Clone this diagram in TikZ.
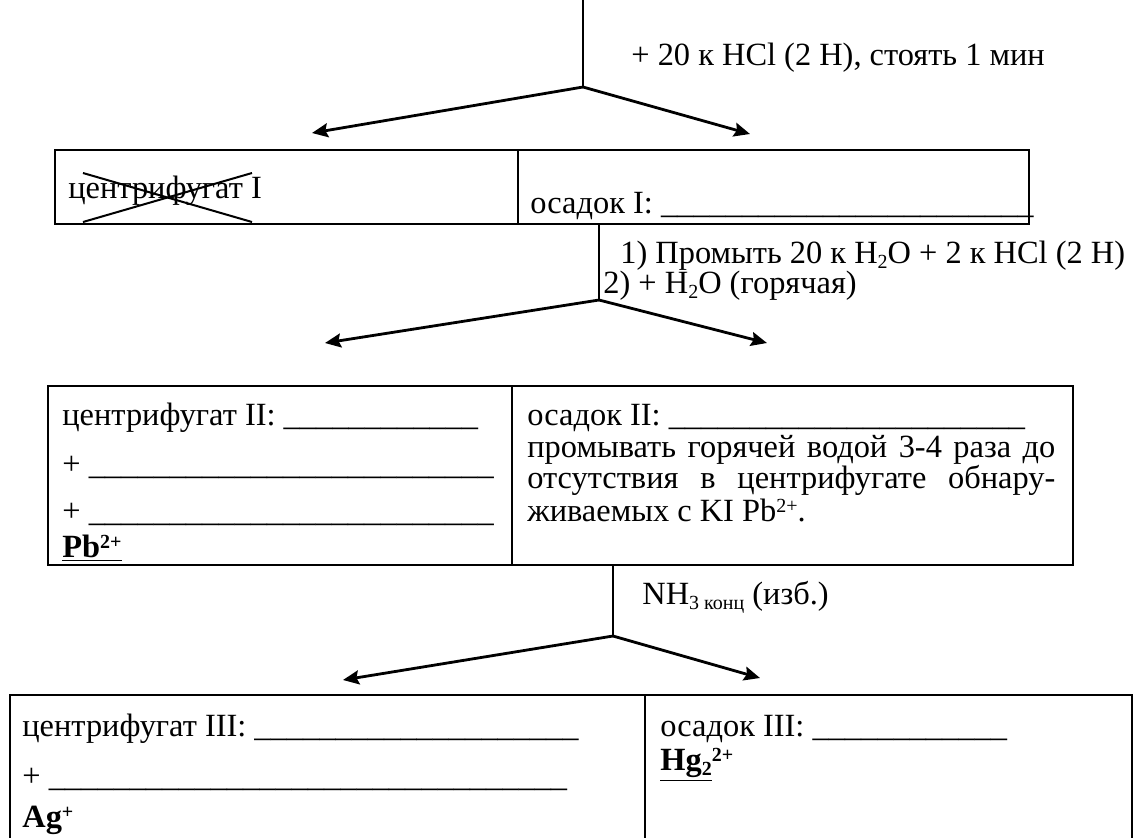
\documentclass[tikz,border=0pt]{standalone}
\usepackage{fontspec}
\setmainfont{Liberation Serif}
\usepackage{tikz}
\usetikzlibrary{arrows.meta}
\newcommand\blanks[1]{\foreach \k in {1,...,#1}{\_}}
\newcommand\ionsup[1]{\raisebox{0.6ex}{\fontsize{10}{10}\selectfont #1}}
\newcommand\ionsub[1]{\raisebox{-0.4ex}{\fontsize{10}{10}\selectfont #1}}
\tikzset{
    txt/.style = {anchor=base west, inner sep=0pt, font=\fontsize{16.2}{16.7}\selectfont},
    cell/.style = {draw=black, line width=1.3pt},
    sep_line/.style = {draw=black, line width=1pt},
    stem/.style = {draw=black, line width=1.4pt},
    arr/.style = {stem, ->},
    strike/.style = {draw=black, line width=1pt}
}

\begin{document}
\begin{tikzpicture}[x=0.5pt, y=-0.5pt, >={Stealth[length=8pt, width=7pt, inset=1.2pt]}]
    \useasboundingbox (0,0) rectangle (1142,837);
    \clip (0,0) rectangle (1142,837);

    % step 1
    \coordinate (top) at (583,0);
    \coordinate (b1) at (583,87);
    \coordinate (t1l) at (312,133);
    \coordinate (t1r) at (750,134);
    \draw[stem] (top) -- (b1);
    \draw[arr] (b1) -- (t1l);
    \draw[arr] (b1) -- (t1r);
    \node[txt] (lab1) at (631,65) {+ 20 к HCl (2 Н), стоять 1 мин};

    \draw[cell] (55,150) rectangle (1029,224);
    \draw[sep_line] (518,150) -- (518,224);
    \node[txt] (c1) at (68,198) {центрифугат I};
    \draw[strike] (83,173) -- (252,222);
    \draw[strike] (83,222) -- (252,173);
    \node[txt] (o1) at (530,213) {осадок I: \blanks{23}};

    % step 2
    \coordinate (s2) at (599,224);
    \coordinate (b2) at (599,300);
    \coordinate (t2l) at (325,343);
    \coordinate (t2r) at (767,343);
    \draw[stem] (s2) -- (b2);
    \draw[arr] (b2) -- (t2l);
    \draw[arr] (b2) -- (t2r);
    \node[txt] (lab2a) at (620,263) {1) Промыть 20 к H\ionsub{2}O + 2 к HCl (2 Н)};
    \node[txt] (lab2b) at (603,293) {2) + H\ionsub{2}O (горячая)};

    \draw[cell] (48,386) rectangle (1073,565);
    \draw[sep_line] (512,386) -- (512,565);
    \node[txt] (c2a) at (62,425) {центрифугат II: \blanks{12}};
    \node[txt] (c2b) at (62,474) {+ \blanks{25}};
    \node[txt] (c2c) at (62,521) {+ \blanks{25}};
    \node[txt] (c2d) at (62,557) {\underline{\textbf{Pb\ionsup{2+}}}};
    \node[txt] (o2a) at (527,425) {осадок II: \blanks{22}};
    \node[txt] (o2b) at (527,457) {\makebox[264pt][s]{промывать горячей водой 3-4 раза до}};
    \node[txt] (o2c) at (527,488) {\makebox[264pt][s]{отсутствия в центрифугате обнару-}};
    \node[txt] (o2d) at (527,521) {живаемых с KI Pb\ionsup{2+}.};

    % step 3
    \coordinate (s3) at (613,565);
    \coordinate (b3) at (613,636);
    \coordinate (t3l) at (343,680);
    \coordinate (t3r) at (760,678);
    \draw[stem] (s3) -- (b3);
    \draw[arr] (b3) -- (t3l);
    \draw[arr] (b3) -- (t3r);
    \node[txt] (lab3) at (642,604) {NH\ionsub{3 конц} (изб.)};

    \draw[cell] (10,695) rectangle (1132,860);
    \draw[sep_line] (645,695) -- (645,860);
    \node[txt] (c3a) at (22,736) {центрифугат III: \blanks{20}};
    \node[txt] (c3b) at (22,786) {+ \blanks{32}};
    \node[txt] (c3c) at (22,827) {\textbf{Ag\ionsup{+}}};
    \node[txt] (o3a) at (660,736) {осадок III: \blanks{12}};
    \node[txt] (o3b) at (660,770) {\underline{\textbf{Hg\ionsub{2}}}\textbf{\ionsup{2+}}};
\end{tikzpicture}
\end{document}
